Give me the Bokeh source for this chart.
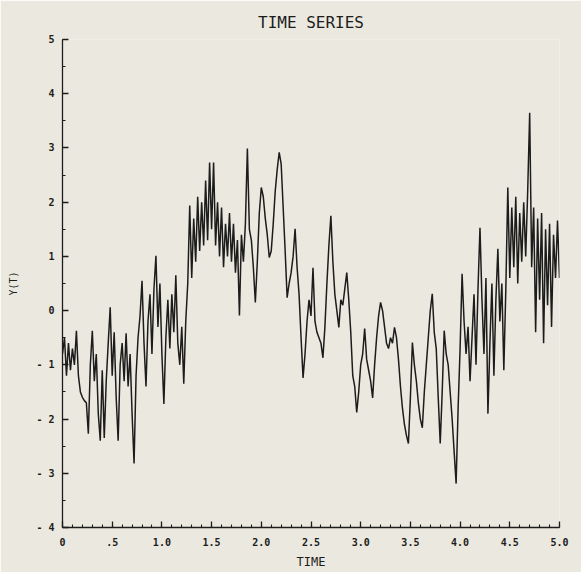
from bokeh.plotting import figure
from bokeh.models import FixedTicker, Range1d
from bokeh.embed import file_html
from bokeh.resources import INLINE
import numpy as np

# sampled series, one value every 0.02 time units (rows of 0.1)
dt = 0.02
y_values = [
    -0.8, -0.5, -1.2, -0.6, -1.1,
    -0.7, -1.0, -0.37, -1.2, -1.5,
    -1.6, -1.66, -1.7, -2.27, -1.0,
    -0.37, -1.3, -0.8, -1.9, -2.4,
    -1.1, -2.35, -1.3, -0.6, 0.06,
    -1.2, -0.4, -1.6, -2.4, -1.0,
    -0.6, -1.3, -0.42, -1.4, -0.8,
    -1.9, -2.82, -1.2, -0.5, -0.1,
    0.55, -0.6, -1.4, -0.2, 0.3,
    -0.8, 0.4, 1.01, -0.3, 0.5,
    -0.8, -1.72, -0.5, 0.2, -0.7,
    0.3, -0.4, 0.65, -0.6, -1.0,
    -0.3, -1.35, -0.2, 0.5, 1.94,
    0.6, 1.7, 0.9, 2.1, 1.1,
    2.0, 1.2, 2.4, 1.3, 2.73,
    1.5, 2.73, 1.2, 2.0, 1.0,
    1.9, 0.8, 1.6, 1.0, 1.8,
    0.9, 1.6, 0.7, 1.3, -0.09,
    1.4, 0.9, 1.6, 2.99, 1.5,
    1.3, 0.8, 0.15, 0.9, 1.8,
    2.27, 2.1, 1.7, 1.4, 0.98,
    1.1, 1.6, 2.2, 2.6, 2.92,
    2.7, 1.9, 1.1, 0.24, 0.5,
    0.7, 1.0, 1.51, 0.8, 0.3,
    -0.5, -1.24, -0.8, -0.2, 0.2,
    -0.1, 0.79, -0.2, -0.4, -0.5,
    -0.6, -0.87, -0.3, 0.5, 1.2,
    1.75, 0.9, 0.3, 0.0, -0.31,
    0.2, 0.1, 0.4, 0.70, 0.2,
    -0.4, -1.2, -1.4, -1.88, -1.5,
    -1.0, -0.8, -0.33, -0.9, -1.1,
    -1.3, -1.61, -1.0, -0.5, -0.1,
    0.15, 0.0, -0.3, -0.6, -0.7,
    -0.5, -0.6, -0.31, -0.5, -0.9,
    -1.4, -1.8, -2.1, -2.3, -2.45,
    -1.6, -0.59, -1.0, -1.3, -1.7,
    -2.0, -2.16, -1.5, -1.0, -0.5,
    0.0, 0.31, -0.4, -0.7, -1.6,
    -2.45, -1.5, -0.37, -0.8, -1.0,
    -1.5, -2.0, -2.6, -3.19, -1.8,
    -0.7, 0.68, -0.2, -0.8, -0.3,
    -1.3, -0.5, 0.3, -1.0, 0.4,
    1.53, 0.2, -0.8, 0.6, -1.9,
    -0.6, 0.5, -1.2, 0.2, 1.14,
    -0.2, 0.5, -1.1, 0.4, 2.27,
    0.6, 1.9, 0.8, 2.1, 0.5,
    1.8, 0.9, 2.0, 1.0, 2.2,
    3.65, 0.8, 1.9, -0.4, 1.7,
    0.2, 1.8, -0.6, 1.5, 0.1,
    1.6, -0.3, 1.4, 0.6, 1.66,
    0.6,
]
time = np.arange(len(y_values)) * dt

x_ticks = [0.0, 0.5, 1.0, 1.5, 2.0, 2.5, 3.0, 3.5, 4.0, 4.5, 5.0]
x_tick_labels = ["0", ".5", "1.0", "1.5", "2.0", "2.5", "3.0", "3.5", "4.0", "4.5", "5.0"]
x_minor = [round(0.1 * k, 1) for k in range(51)]

y_ticks = [-4, -3, -2, -1, 0, 1, 2, 3, 4, 5]
y_tick_labels = ["- 4", "- 3", "- 2", "- 1", "0", "1", "2", "3", "4", "5"]
y_minor = [-4 + 0.5 * k for k in range(19)]

paper = "#ebe9df"
ink = "#1c1c1c"
mono = "DejaVu Sans Mono"

p = figure(width=581, height=572, output_backend="svg", toolbar_location=None,
           x_range=Range1d(0, 5.0), y_range=Range1d(-4, 5),
           min_border_left=62, min_border_right=22,
           min_border_top=39, min_border_bottom=45,
           title="TIME SERIES")
p.background_fill_color = paper
p.border_fill_color = paper
p.outline_line_color = None
p.grid.visible = False

p.title.align = "center"
p.title.text_font = mono
p.title.text_font_size = "16px"
p.title.text_font_style = "normal"
p.title.text_color = ink
p.title.standoff = 16

p.line(time, y_values, line_color=ink, line_width=1.5)

for ax, ticks, labels, minor in ((p.xaxis[0], x_ticks, x_tick_labels, x_minor),
                                 (p.yaxis[0], y_ticks, y_tick_labels, y_minor)):
    ax.ticker = FixedTicker(ticks=ticks, minor_ticks=minor)
    ax.major_label_overrides = {t: l for t, l in zip(ticks, labels)}
    ax.axis_line_color = ink
    ax.axis_line_width = 1.3
    ax.major_tick_line_color = ink
    ax.minor_tick_line_color = ink
    ax.major_tick_line_width = 1.3
    ax.minor_tick_line_width = 1.1
    ax.major_tick_in = 6
    ax.major_tick_out = 0
    ax.minor_tick_in = 3
    ax.minor_tick_out = 0
    ax.major_label_text_font = mono
    ax.major_label_text_font_size = "10px"
    ax.major_label_text_font_style = "bold"
    ax.major_label_text_color = ink
    ax.axis_label_text_font = mono
    ax.axis_label_text_font_style = "normal"
    ax.axis_label_text_color = ink

p.xaxis.axis_label = "TIME"
p.xaxis.axis_label_text_font_size = "12px"
p.xaxis.major_label_standoff = 10
p.xaxis.axis_label_standoff = 6

p.yaxis.axis_label = "Y(T)"
p.yaxis.axis_label_text_font_size = "10px"
p.yaxis.major_label_standoff = 8
p.yaxis.axis_label_standoff = 14

open("out.html", "w").write(file_html(p, INLINE))
